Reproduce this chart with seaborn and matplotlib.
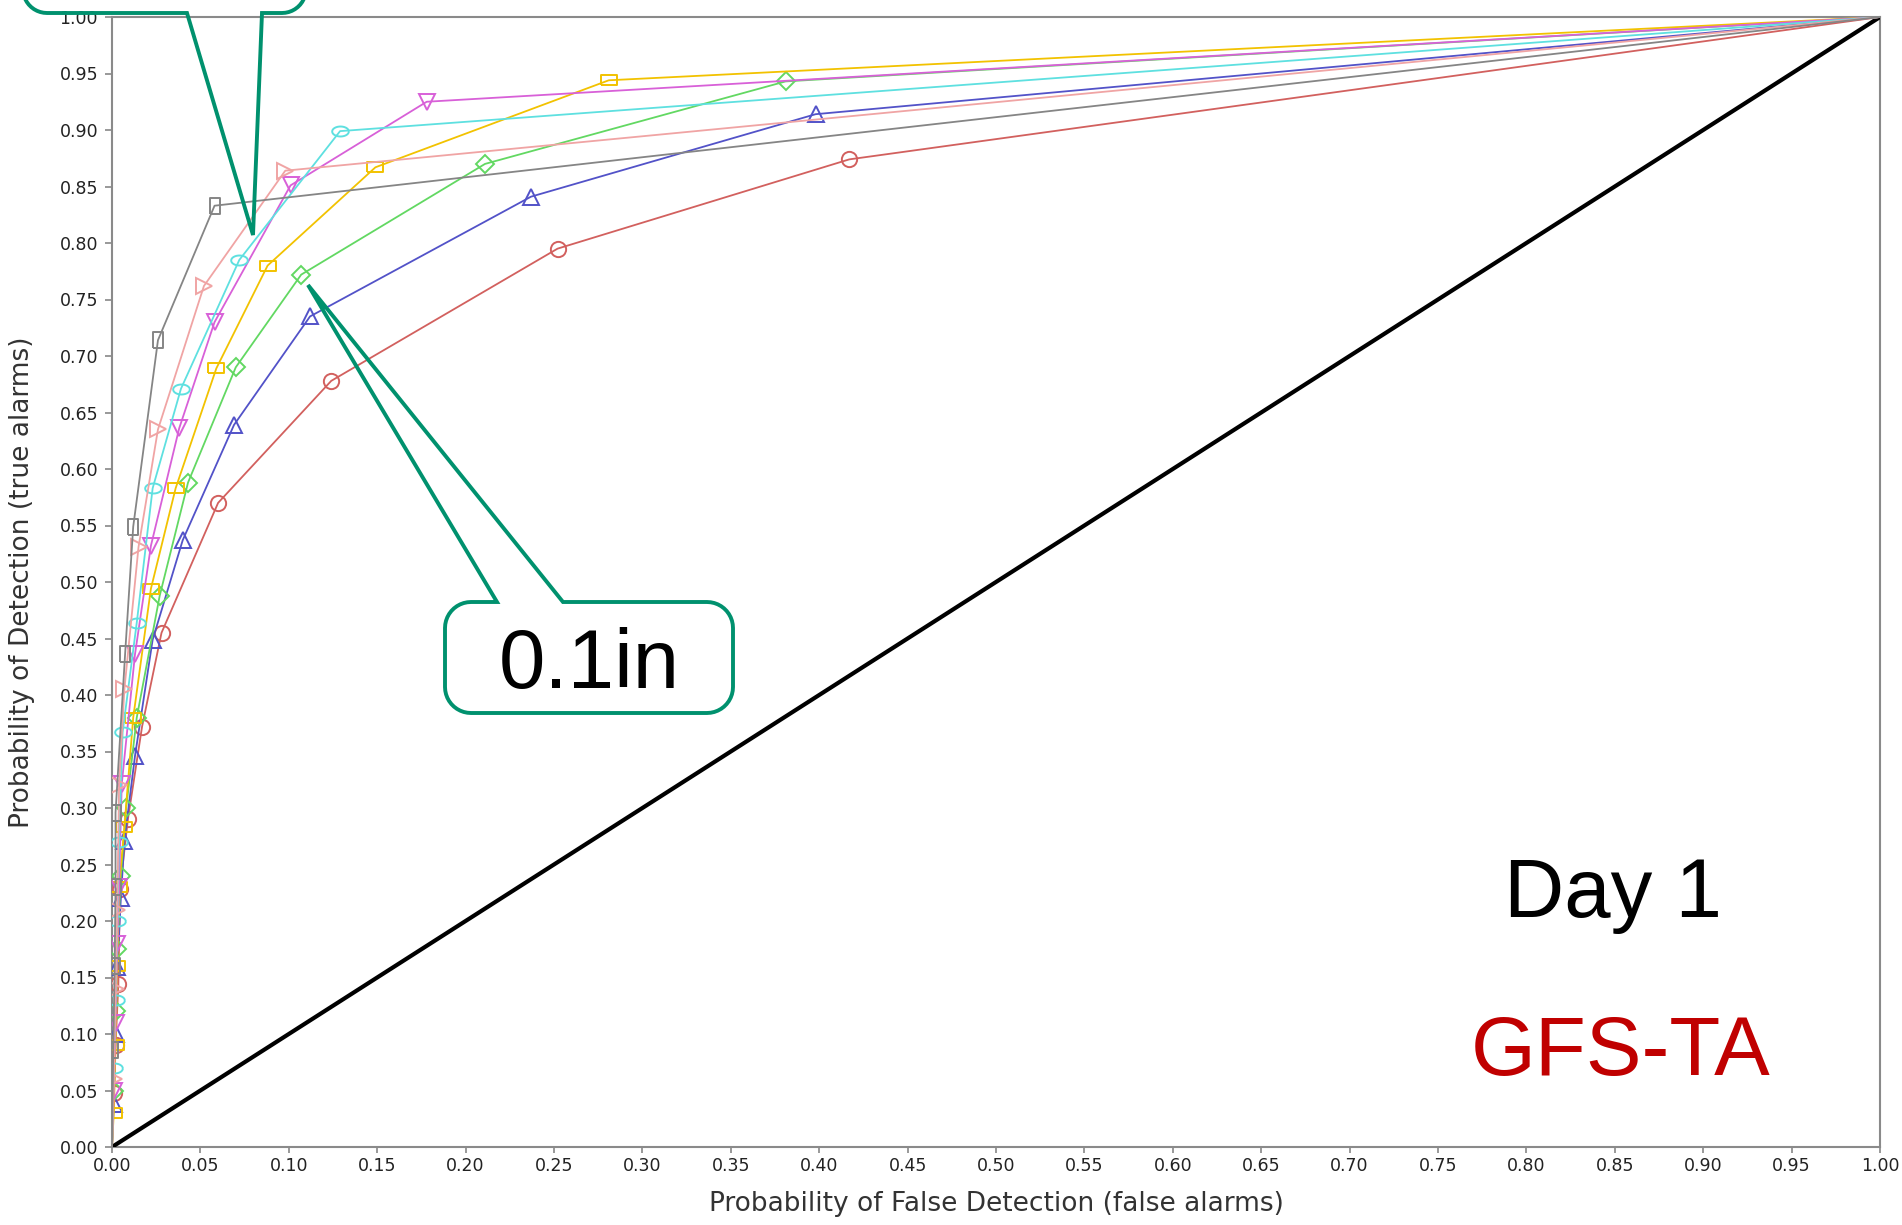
import numpy as np
import pandas as pd
import seaborn as sns
import matplotlib.pyplot as plt
from matplotlib.patches import Polygon
from matplotlib.transforms import Affine2D

# POFD (x) / POD (y) pairs, one curve per threshold
red_pofd = [0, 0.001, 0.002, 0.0036, 0.0045, 0.009, 0.017, 0.028, 0.060, 0.124, 0.252, 0.417, 1]
red_pod = [0, 0.048, 0.090, 0.144, 0.228, 0.290, 0.372, 0.455, 0.570, 0.678, 0.795, 0.874, 1]

blue_pofd = [0, 0.001, 0.002, 0.003, 0.005, 0.007, 0.013, 0.023, 0.040, 0.069, 0.112, 0.237, 0.398, 1]
blue_pod = [0, 0.038, 0.100, 0.159, 0.220, 0.271, 0.346, 0.449, 0.537, 0.639, 0.735, 0.841, 0.914, 1]

green_pofd = [0, 0.001, 0.002, 0.003, 0.005, 0.008, 0.014, 0.027, 0.043, 0.070, 0.107, 0.211, 0.381, 1]
green_pod = [0, 0.050, 0.120, 0.175, 0.240, 0.300, 0.380, 0.488, 0.588, 0.690, 0.772, 0.870, 0.943, 1]

yellow_pofd = [0, 0.001, 0.002, 0.003, 0.004, 0.007, 0.012, 0.022, 0.036, 0.059, 0.088, 0.149, 0.281, 1]
yellow_pod = [0, 0.030, 0.090, 0.160, 0.230, 0.283, 0.380, 0.494, 0.583, 0.689, 0.780, 0.867, 0.944, 1]

magenta_pofd = [0, 0.001, 0.002, 0.003, 0.004, 0.0055, 0.013, 0.022, 0.038, 0.058, 0.101, 0.178, 1]
magenta_pod = [0, 0.050, 0.110, 0.180, 0.230, 0.321, 0.436, 0.532, 0.636, 0.730, 0.851, 0.925, 1]

cyan_pofd = [0, 0.001, 0.002, 0.003, 0.004, 0.006, 0.014, 0.023, 0.039, 0.072, 0.129, 1]
cyan_pod = [0, 0.070, 0.130, 0.200, 0.270, 0.367, 0.464, 0.583, 0.671, 0.785, 0.899, 1]

pink_pofd = [0, 0.001, 0.002, 0.003, 0.004, 0.007, 0.015, 0.026, 0.052, 0.098, 1]
pink_pod = [0, 0.060, 0.140, 0.210, 0.320, 0.405, 0.531, 0.635, 0.762, 0.864, 1]

gray_pofd = [0, 0.0007, 0.0015, 0.002, 0.002, 0.0074, 0.012, 0.026, 0.058, 1]
gray_pod = [0, 0.086, 0.160, 0.230, 0.296, 0.436, 0.549, 0.714, 0.833, 1]

diag = [0, 1]
ticks = np.round(np.arange(0, 1.0001, 0.05), 2)

sns.set_theme(style='white')
plt.rcParams['font.family'] = ['DejaVu Sans']

W, H = 1902, 1225
fig = plt.figure(figsize=(W / 100, H / 100), dpi=100)
ax = fig.add_axes([112 / W, 1 - 1147 / H, 1768 / W, 1130 / H])

# marker shapes like the java chart: wide/tall rectangles and a flat ellipse
hrect = [(-1, -0.55), (1, -0.55), (1, 0.55), (-1, 0.55), (-1, -0.55)]
vrect = [(-0.55, -1), (0.55, -1), (0.55, 1), (-0.55, 1), (-0.55, -1)]
t = np.linspace(0, 2 * np.pi, 30)
hell = list(zip(np.cos(t), 0.6 * np.sin(t)))

sns.lineplot(x=diag, y=diag, color='black', linewidth=3, ax=ax, zorder=3)

curves = [
    (red_pofd, red_pod, '#d2605e', 'o', 11),
    (blue_pofd, blue_pod, '#5252c8', '^', 12),
    (green_pofd, green_pod, '#62d862', 'D', 9.5),
    (yellow_pofd, yellow_pod, '#f2c200', hrect, 12),
    (magenta_pofd, magenta_pod, '#d860d8', 'v', 12),
    (cyan_pofd, cyan_pod, '#5ee0e0', hell, 12),
    (pink_pofd, pink_pod, '#f0a4a4', '>', 12),
    (gray_pofd, gray_pod, '#858585', vrect, 12),
]
for pofd, pod, color, marker, ms in curves:
    df = pd.DataFrame({'pofd': pofd, 'pod': pod})
    sns.lineplot(data=df, x='pofd', y='pod', ax=ax, sort=False, estimator=None,
                 color=color, linewidth=1.3, marker=marker, markersize=ms,
                 markerfacecolor='none', markeredgecolor=color,
                 markeredgewidth=1.4, markevery=slice(1, -1), zorder=4)

ax.set_xlim(0, 1)
ax.set_ylim(0, 1)
ax.set_xticks(ticks)
ax.set_yticks(ticks)
ax.set_xticklabels([f'{v:.2f}' for v in ticks])
ax.set_yticklabels([f'{v:.2f}' for v in ticks])
ax.tick_params(axis='x', length=4, width=1.2, pad=3, labelsize=12.5,
               color='#888888', labelcolor='#222222', bottom=True)
ax.tick_params(axis='y', length=5, width=1.2, pad=5, labelsize=12.5,
               color='#888888', labelcolor='#222222', left=True)
for s in ax.spines.values():
    s.set_color('#8a8a8a')
    s.set_linewidth(1.5)

ax.set_xlabel('Probability of False Detection (false alarms)', fontsize=19, color='#333333')
ax.set_ylabel('Probability of Detection (true alarms)', fontsize=19, color='#333333')
ax.xaxis.set_label_coords(0.5, -(1204 - 1147) / 1130)
ax.xaxis.label.set_va('center')
ax.yaxis.set_label_coords(-(112 - 22) / 1768, 0.5)
ax.yaxis.label.set_va('center')

# pixel coordinates of the picture (origin top-left) -> figure
trans = Affine2D().scale(1 / W, -1 / H).translate(0, 1) + fig.transFigure
teal = '#00916e'


def callout(x0, y0, x1, y1, r, bl, br, tip, side):
    def arc(cx, cy, a0, a1):
        a = np.radians(np.linspace(a0, a1, 12))
        return list(zip(cx + r * np.cos(a), cy + r * np.sin(a)))
    tr = arc(x1 - r, y0 + r, -90, 0)
    brc = arc(x1 - r, y1 - r, 0, 90)
    blc = arc(x0 + r, y1 - r, 90, 180)
    tl = arc(x0 + r, y0 + r, 180, 270)
    if side == 'top':
        verts = [(br, y0)] + tr + brc + blc + tl + [(bl, y0), tip]
    else:
        verts = tr + brc + [(br, y1), tip, (bl, y1)] + blc + tl
    fig.add_artist(Polygon(verts, closed=True, fill=False, edgecolor=teal,
                           linewidth=2.8, transform=trans, zorder=10))


callout(23, -120, 306, 13, 24, 187, 262, (253, 235), 'bottom')
callout(445, 602, 733, 713, 26, 497, 563, (308, 285), 'top')

fig.text(589, 688, '0.1in', transform=trans, ha='center', va='baseline',
         fontsize=60, family='Liberation Sans', color='black')
fig.text(1613, 917, 'Day 1', transform=trans, ha='center', va='baseline',
         fontsize=60, family='Liberation Sans', color='black')
fig.text(1621, 1075, 'GFS-TA', transform=trans, ha='center', va='baseline',
         fontsize=60, family='Liberation Sans', color='#c00000')

fig.savefig('out.png', dpi=100, facecolor='white')
